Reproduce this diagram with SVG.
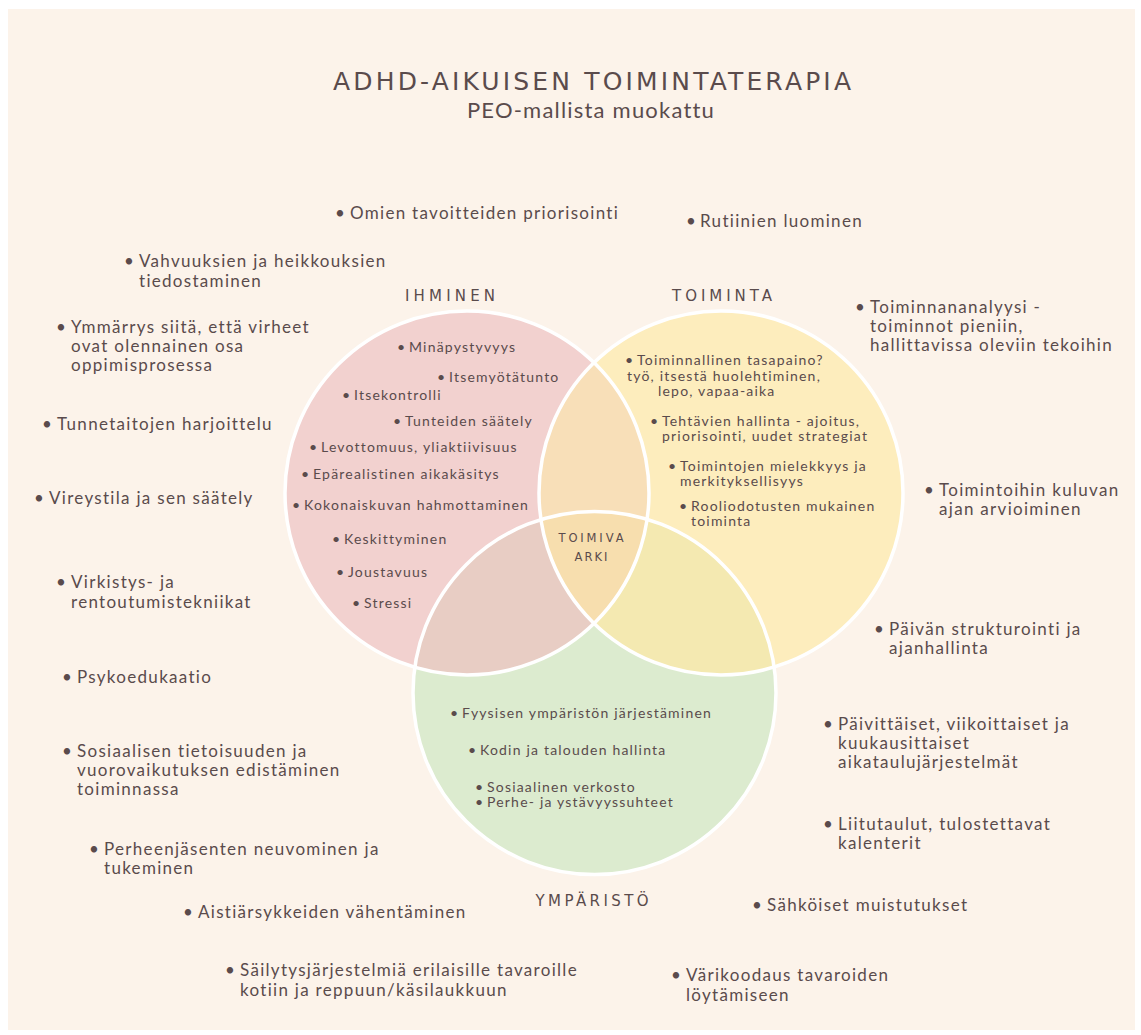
<svg xmlns="http://www.w3.org/2000/svg" width="1141" height="1035" viewBox="0 0 1141 1035">
<defs>
<style>
.t{font-family:Lato,"Noto Sans",sans-serif;font-size:17px;fill:#5a4b4c;letter-spacing:1.3px}
.i{font-family:Lato,"Noto Sans",sans-serif;font-size:14px;fill:#5a4b4c;letter-spacing:1.2px}
.h{font-family:"DejaVu Sans","Noto Sans",sans-serif;fill:#5a4b4c;text-anchor:middle}
.ring{fill:none;stroke:#ffffff;stroke-width:3.5}
</style>
<clipPath id="cL"><circle cx="467" cy="493" r="182"/></clipPath>
<clipPath id="cR"><circle cx="721" cy="493" r="182"/></clipPath>
<clipPath id="cB"><circle cx="594.5" cy="693" r="181.5"/></clipPath>
</defs>
<rect width="1141" height="1035" fill="#ffffff"/>
<rect x="8" y="9" width="1127" height="1021" fill="#fcf3ea"/>

<g id="title">
<text class="h" x="592" y="90" font-size="25" textLength="518" lengthAdjust="spacing">ADHD-AIKUISEN TOIMINTATERAPIA</text>
<text x="591" y="118" text-anchor="middle" style="font-family:Lato,'Noto Sans',sans-serif;font-size:22px;fill:#5a4b4c;letter-spacing:1.2px">PEO-mallista muokattu</text>
</g>

<g id="venn">
<circle id="ihminen-circle" cx="467" cy="493" r="182" fill="#f2d1cf"/>
<circle id="toiminta-circle" cx="721" cy="493" r="182" fill="#fdedbd"/>
<circle id="ymparisto-circle" cx="594.5" cy="693" r="181.5" fill="#dcebcf"/>
<g clip-path="url(#cL)"><circle cx="721" cy="493" r="182" fill="#f8dfb8"/></g>
<g clip-path="url(#cL)"><circle cx="594.5" cy="693" r="181.5" fill="#e8cdc4"/></g>
<g clip-path="url(#cR)"><circle cx="594.5" cy="693" r="181.5" fill="#f4e9b1"/></g>
<g clip-path="url(#cL)"><g clip-path="url(#cR)"><circle cx="594.5" cy="693" r="181.5" fill="#f7deae"/></g></g>
<circle class="ring" cx="467" cy="493" r="182"/>
<circle class="ring" cx="721" cy="493" r="182"/>
<circle class="ring" cx="594.5" cy="693" r="181.5"/>
</g>

<g id="labels">
<text class="h" x="450" y="301" font-size="15" textLength="90" lengthAdjust="spacing">IHMINEN</text>
<text class="h" x="722" y="301" font-size="15" textLength="100" lengthAdjust="spacing">TOIMINTA</text>
<text class="h" x="592" y="906" font-size="15" textLength="113" lengthAdjust="spacing">YMPÄRISTÖ</text>
<text class="h" x="591" y="542" font-size="11.5" textLength="65" lengthAdjust="spacing">TOIMIVA</text>
<text class="h" x="591" y="561" font-size="11.5" textLength="33" lengthAdjust="spacing">ARKI</text>
</g>

<g id="ihminen-items">
<text class="i" y="352"><tspan x="397">•</tspan><tspan x="409">Minäpystyvyys</tspan></text>
<text class="i" y="382"><tspan x="437">•</tspan><tspan x="449">Itsemyötätunto</tspan></text>
<text class="i" y="400"><tspan x="342">•</tspan><tspan x="354">Itsekontrolli</tspan></text>
<text class="i" y="426"><tspan x="393">•</tspan><tspan x="405">Tunteiden säätely</tspan></text>
<text class="i" y="452"><tspan x="309">•</tspan><tspan x="321">Levottomuus, yliaktiivisuus</tspan></text>
<text class="i" y="479"><tspan x="301">•</tspan><tspan x="313">Epärealistinen aikakäsitys</tspan></text>
<text class="i" y="510"><tspan x="292">•</tspan><tspan x="304">Kokonaiskuvan hahmottaminen</tspan></text>
<text class="i" y="544"><tspan x="332">•</tspan><tspan x="344">Keskittyminen</tspan></text>
<text class="i" y="577"><tspan x="336">•</tspan><tspan x="348">Joustavuus</tspan></text>
<text class="i" y="608"><tspan x="352">•</tspan><tspan x="364">Stressi</tspan></text>
</g>

<g id="toiminta-items">
<text class="i" y="365"><tspan x="625">•</tspan><tspan x="637">Toiminnallinen tasapaino?</tspan></text>
<text class="i" x="627" y="381">työ, itsestä huolehtiminen,</text>
<text class="i" x="658" y="396">lepo, vapaa-aika</text>
<text class="i" y="426"><tspan x="650">•</tspan><tspan x="662">Tehtävien hallinta - ajoitus,</tspan></text>
<text class="i" x="662" y="441">priorisointi, uudet strategiat</text>
<text class="i" y="471"><tspan x="668">•</tspan><tspan x="680">Toimintojen mielekkyys ja</tspan></text>
<text class="i" x="680" y="486">merkityksellisyys</text>
<text class="i" y="511"><tspan x="679">•</tspan><tspan x="691">Rooliodotusten mukainen</tspan></text>
<text class="i" x="691" y="526">toiminta</text>
</g>

<g id="ymparisto-items">
<text class="i" y="718"><tspan x="450">•</tspan><tspan x="462">Fyysisen ympäristön järjestäminen</tspan></text>
<text class="i" y="755"><tspan x="468">•</tspan><tspan x="480">Kodin ja talouden hallinta</tspan></text>
<text class="i" y="792"><tspan x="475">•</tspan><tspan x="487">Sosiaalinen verkosto</tspan></text>
<text class="i" y="807"><tspan x="475">•</tspan><tspan x="487">Perhe- ja ystävyyssuhteet</tspan></text>
</g>

<g id="outer-items">
<text class="t" y="219"><tspan x="335">•</tspan><tspan x="350">Omien tavoitteiden priorisointi</tspan></text>
<text class="t" y="227"><tspan x="686">•</tspan><tspan x="700">Rutiinien luominen</tspan></text>
<text class="t" y="267"><tspan x="124">•</tspan><tspan x="139">Vahvuuksien ja heikkouksien</tspan></text>
<text class="t" x="139" y="287">tiedostaminen</text>
<text class="t" y="333"><tspan x="56">•</tspan><tspan x="71">Ymmärrys siitä, että virheet</tspan></text>
<text class="t" x="71" y="352">ovat olennainen osa</text>
<text class="t" x="71" y="371">oppimisprosessa</text>
<text class="t" y="430"><tspan x="42">•</tspan><tspan x="57">Tunnetaitojen harjoittelu</tspan></text>
<text class="t" y="504"><tspan x="34">•</tspan><tspan x="49">Vireystila ja sen säätely</tspan></text>
<text class="t" y="588"><tspan x="56">•</tspan><tspan x="71">Virkistys- ja</tspan></text>
<text class="t" x="71" y="608">rentoutumistekniikat</text>
<text class="t" y="683"><tspan x="62">•</tspan><tspan x="77">Psykoedukaatio</tspan></text>
<text class="t" y="757"><tspan x="62">•</tspan><tspan x="77">Sosiaalisen tietoisuuden ja</tspan></text>
<text class="t" x="77" y="776">vuorovaikutuksen edistäminen</text>
<text class="t" x="77" y="795">toiminnassa</text>
<text class="t" y="855"><tspan x="89">•</tspan><tspan x="104">Perheenjäsenten neuvominen ja</tspan></text>
<text class="t" x="104" y="874">tukeminen</text>
<text class="t" y="918"><tspan x="183">•</tspan><tspan x="198">Aistiärsykkeiden vähentäminen</tspan></text>
<text class="t" y="976"><tspan x="225">•</tspan><tspan x="240">Säilytysjärjestelmiä erilaisille tavaroille</tspan></text>
<text class="t" x="240" y="996">kotiin ja reppuun/käsilaukkuun</text>
<text class="t" y="981"><tspan x="671">•</tspan><tspan x="686">Värikoodaus tavaroiden</tspan></text>
<text class="t" x="686" y="1001">löytämiseen</text>
<text class="t" y="911"><tspan x="752">•</tspan><tspan x="767">Sähköiset muistutukset</tspan></text>
<text class="t" y="830"><tspan x="823">•</tspan><tspan x="838">Liitutaulut, tulostettavat</tspan></text>
<text class="t" x="838" y="849">kalenterit</text>
<text class="t" y="730"><tspan x="823">•</tspan><tspan x="838">Päivittäiset, viikoittaiset ja</tspan></text>
<text class="t" x="838" y="749">kuukausittaiset</text>
<text class="t" x="838" y="768">aikataulujärjestelmät</text>
<text class="t" y="635"><tspan x="874">•</tspan><tspan x="889">Päivän strukturointi ja</tspan></text>
<text class="t" x="889" y="654">ajanhallinta</text>
<text class="t" y="496"><tspan x="924">•</tspan><tspan x="939">Toimintoihin kuluvan</tspan></text>
<text class="t" x="939" y="515">ajan arvioiminen</text>
<text class="t" y="313"><tspan x="855">•</tspan><tspan x="870">Toiminnananalyysi -</tspan></text>
<text class="t" x="870" y="332">toiminnot pieniin,</text>
<text class="t" x="870" y="351">hallittavissa oleviin tekoihin</text>
</g>
</svg>
